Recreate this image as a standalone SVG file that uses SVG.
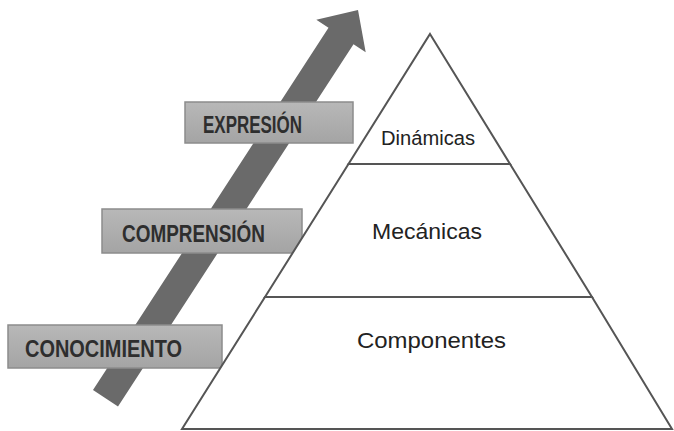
<svg xmlns="http://www.w3.org/2000/svg" width="674" height="431" viewBox="0 0 674 431">
<defs>
<linearGradient id="boxg" x1="0" y1="0" x2="0" y2="1">
<stop offset="0" stop-color="#b8b8b8"/>
<stop offset="1" stop-color="#a4a4a4"/>
</linearGradient>
</defs>
<style>
.lvl{fill:url(#boxg);stroke:#8c8c8c;stroke-width:1.5}
.lt{font-family:"Liberation Sans",Arial,sans-serif;font-weight:bold;fill:#2e2e2e}
.tier{fill:#ffffff;stroke:#555555;stroke-width:2;stroke-linejoin:miter}
.pt{font-family:"Liberation Sans",Arial,sans-serif;fill:#222222;text-anchor:middle}
</style>
<rect width="674" height="431" fill="#ffffff"/>
<g id="connectors">
<polygon id="arrow" points="93,390 328.5,27.8 316.3,19.8 358,10 365.7,52.2 353.5,44.2 118,406.4" fill="#6a6a6a"/>
</g>
<g id="conocimiento">
<rect class="lvl" x="8" y="325" width="214" height="43"/>
<text class="lt" x="25" y="357" font-size="23" textLength="157" lengthAdjust="spacingAndGlyphs">CONOCIMIENTO</text>
</g>
<g id="comprension">
<rect class="lvl" x="102" y="209" width="200" height="44"/>
<text class="lt" x="122" y="242" font-size="23" textLength="143" lengthAdjust="spacingAndGlyphs">COMPRENSIÓN</text>
</g>
<g id="expresion">
<rect class="lvl" x="185" y="102" width="168" height="41"/>
<text class="lt" x="203" y="133" font-size="23" textLength="99" lengthAdjust="spacingAndGlyphs">EXPRESIÓN</text>
</g>
<g id="componentes">
<polygon class="tier" points="265,297 592,297 672,429 182,429"/>
<text class="pt" x="431.5" y="348" font-size="22.5" textLength="149" lengthAdjust="spacingAndGlyphs">Componentes</text>
</g>
<g id="mecanicas">
<polygon class="tier" points="348.5,164 510,164 592,297 265,297"/>
<text class="pt" x="427" y="239" font-size="22.5" textLength="110" lengthAdjust="spacingAndGlyphs">Mecánicas</text>
</g>
<g id="dinamicas">
<polygon class="tier" points="430,34 510,164 348.5,164"/>
<text class="pt" x="428" y="145" font-size="19.5" textLength="94" lengthAdjust="spacingAndGlyphs">Dinámicas</text>
</g>
</svg>
